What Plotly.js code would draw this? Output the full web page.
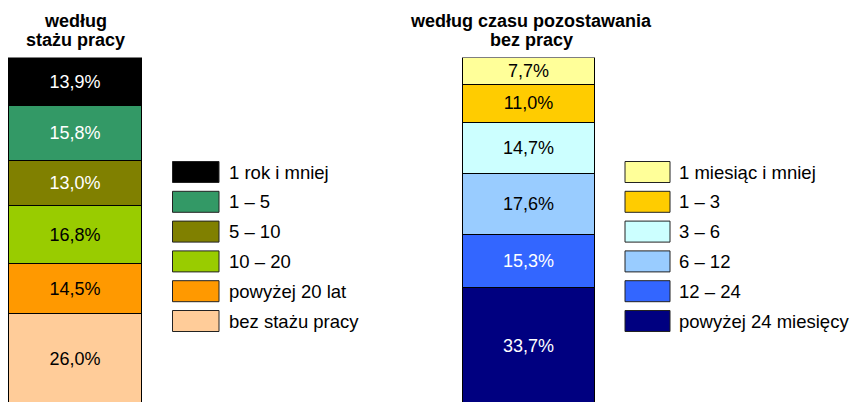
<!DOCTYPE html>
<html>
<head>
<meta charset="utf-8">
<script src="https://cdn.plot.ly/plotly-3.0.1.min.js"></script>
<style>html,body{margin:0;padding:0;background:#fff;}#chart{width:853px;height:402px;}</style>
</head>
<body>
<div id="chart"></div>
<script>
// ---- data ----
const titleStaz = ['według', 'stażu pracy'];
const titleCzas = ['według czasu pozostawania', 'bez pracy'];
const stazCategories = ['1 rok i mniej', '1 – 5', '5 – 10', '10 – 20', 'powyżej 20 lat', 'bez stażu pracy'];
const stazValues = [13.9, 15.8, 13.0, 16.8, 14.5, 26.0];
const czasCategories = ['1 miesiąc i mniej', '1 – 3', '3 – 6', '6 – 12', '12 – 24', 'powyżej 24 miesięcy'];
const czasValues = [7.7, 11.0, 14.7, 17.6, 15.3, 33.7];

// ---- styles ----
const stazColors = ['#000000', '#339966', '#808000', '#99CC00', '#FF9900', '#FFCC99'];
const stazText = ['#ffffff', '#ffffff', '#ffffff', '#000000', '#000000', '#000000'];
const czasColors = ['#FFFF99', '#FFCC00', '#CCFFFF', '#99CCFF', '#3366FF', '#000080'];
const czasText = ['#000000', '#000000', '#000000', '#000000', '#ffffff', '#ffffff'];

const W = 853, H = 402;
const FONT = '"Liberation Sans", Arial, sans-serif';
const px = v => v / W;
const py = v => 1 - v / H;

const traces = [];
function addStack(cats, vals, colors, tcolors, xa) {
  for (let i = cats.length - 1; i >= 0; i--) {
    traces.push({
      type: 'bar', x: ['s'], y: [vals[i]], name: cats[i],
      xaxis: xa, yaxis: 'y', width: 1,
      marker: {color: colors[i], line: {color: '#000000', width: 1}},
      texttemplate: '%{y:.1f}%', textposition: 'inside', insidetextanchor: 'middle',
      textangle: 0, constraintext: 'none',
      textfont: {family: FONT, size: 18, color: tcolors[i]},
      hoverinfo: 'skip'
    });
  }
}
addStack(stazCategories, stazValues, stazColors, stazText, 'x');
addStack(czasCategories, czasValues, czasColors, czasText, 'x2');

const shapes = [], annotations = [];
function addLegend(cats, colors, x0, x1, tx) {
  cats.forEach((c, i) => {
    const cy = 172 + i * 29.8;
    shapes.push({type: 'rect', xref: 'paper', yref: 'paper',
      x0: px(x0), x1: px(x1), y0: py(cy + 10.5), y1: py(cy - 10.5),
      fillcolor: colors[i], line: {color: '#222222', width: 1}});
    annotations.push({xref: 'paper', yref: 'paper', x: px(tx), y: py(cy),
      xanchor: 'left', yanchor: 'middle', text: c, showarrow: false,
      font: {family: FONT, size: 18.5, color: '#000000'}});
  });
}
addLegend(stazCategories, stazColors, 172.5, 219, 227);
addLegend(czasCategories, czasColors, 625, 670, 677);

function addTitle(lines, cx) {
  lines.forEach((t, i) => {
    annotations.push({xref: 'paper', yref: 'paper', x: px(cx), y: py(21 + i * 19),
      xanchor: 'center', yanchor: 'middle', text: '<b>' + t + '</b>', showarrow: false,
      font: {family: FONT, size: 18, color: '#000000'}});
  });
}
addTitle(titleStaz, 75);
addTitle(titleCzas, 531);

const plotTop = 57.5, pxPerPct = 3.465;
const half = w => 0.5 * (w + 2) / w;
const layout = {
  width: W, height: H,
  margin: {l: 0, r: 0, t: 0, b: 0},
  paper_bgcolor: '#ffffff', plot_bgcolor: 'rgba(0,0,0,0)',
  barmode: 'stack', bargap: 0, showlegend: false,
  separators: ', ',
  xaxis: {domain: [px(7.5), px(142.5)], range: [-half(133), half(133)], visible: false, fixedrange: true},
  xaxis2: {domain: [px(461.5), px(595.5)], range: [-half(132), half(132)], visible: false, fixedrange: true, anchor: 'y'},
  yaxis: {domain: [0, py(plotTop)], range: [100 - (H - plotTop) / pxPerPct, 100], visible: false, fixedrange: true},
  shapes: shapes, annotations: annotations,
  font: {family: FONT}
};
Plotly.newPlot('chart', traces, layout, {displayModeBar: false, staticPlot: true});
</script>
</body>
</html>
